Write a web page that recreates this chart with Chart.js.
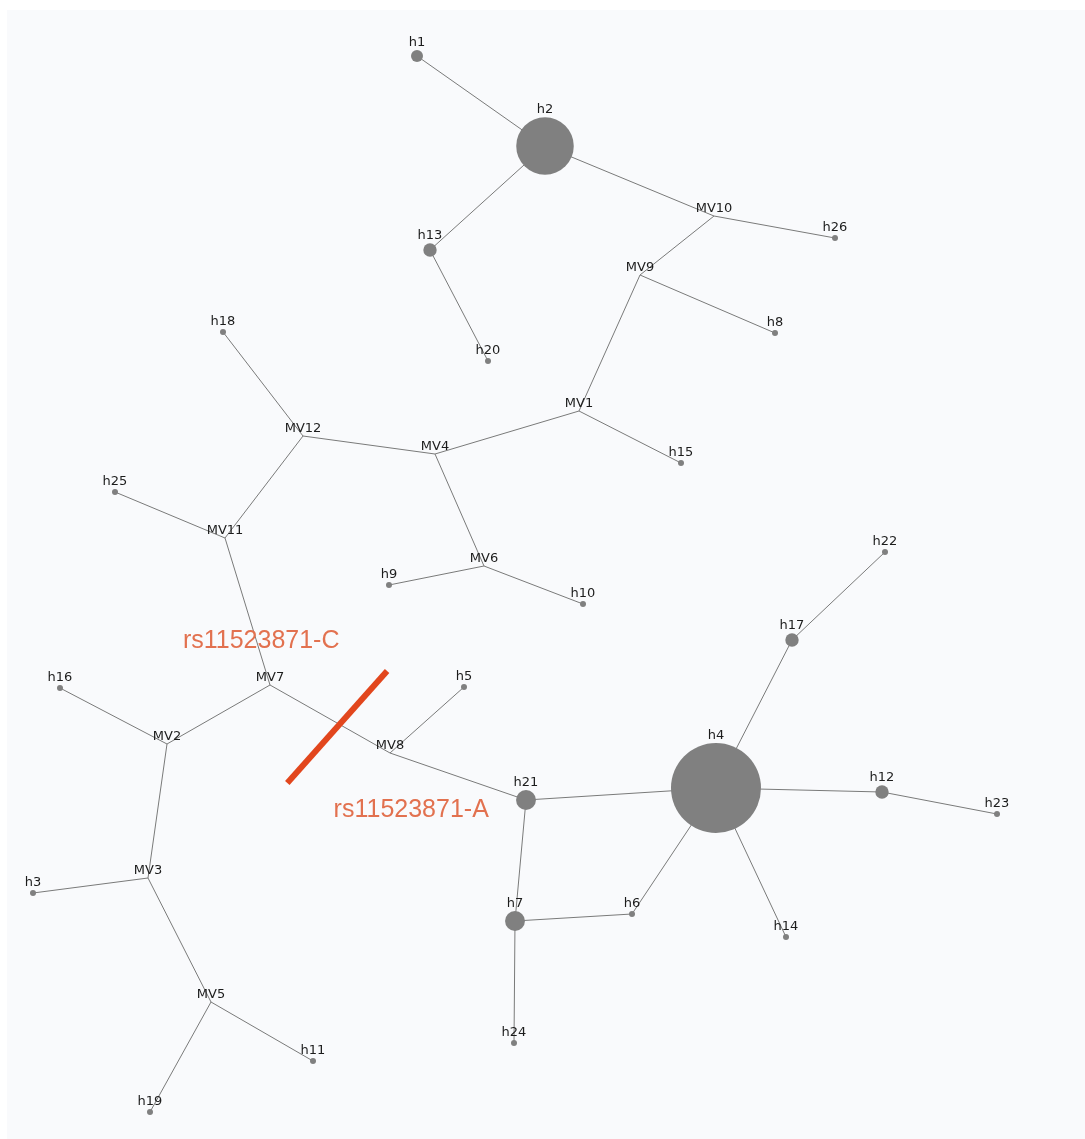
<!DOCTYPE html>
<html>
<head>
<meta charset="utf-8">
<script src="https://cdn.jsdelivr.net/npm/chart.js@4/dist/chart.umd.min.js"></script>
<style>
  html, body { margin: 0; padding: 0; background: #ffffff; }
  #wrap { width: 1085px; height: 1139px; }
</style>
</head>
<body>
<div id="wrap"><canvas id="c" width="1085" height="1139"></canvas></div>
<script>
// ---------------- DATA ----------------
// Haplotype / median-vector nodes (layout coordinates, y grows downward)
const nodeNames = ['h1','h2','h13','h20','MV10','h26','MV9','h8','MV1','h15','MV4','MV12','h18','MV11','h25','MV6','h9','h10','MV7','h16','MV2','MV3','h3','MV5','h11','h19','MV8','h5','h21','h7','h24','h6','h4','h17','h22','h12','h23','h14'];
const nodeX = [417, 545, 430, 488, 714, 835, 640, 775, 579, 681, 435, 303, 223, 225, 115, 484, 389, 583, 270, 60, 167, 148, 33, 211, 313, 150, 390, 464, 526, 515, 514, 632, 716, 792, 885, 882, 997, 786];
const nodeY = [56, 146, 250, 361, 216, 238, 275, 333, 411, 463, 454, 436, 332, 538, 492, 566, 585, 604, 685, 688, 744, 878, 893, 1002, 1061, 1112, 753, 687, 800, 921, 1043, 914, 788, 640, 552, 792, 814, 937];
// haplotype frequencies (0 = median vector, not sampled)
const nodeFreq = [4, 92, 5, 1, 0, 1, 0, 1, 0, 1, 0, 0, 1, 0, 1, 0, 1, 1, 0, 1, 0, 0, 1, 0, 1, 1, 0, 1, 11, 11, 1, 1, 225, 5, 1, 5, 1, 1];
// network links
const edgeFrom = ['h1','h2','h13','h2','MV10','MV10','MV9','MV9','MV1','MV1','MV4','MV12','MV12','MV11','MV4','MV6','MV6','MV11','MV7','MV2','MV2','MV3','MV3','MV5','MV5','MV7','MV8','MV8','h21','h21','h7','h6','h7','h4','h17','h4','h12','h4'];
const edgeTo   = ['h2','h13','h20','MV10','h26','MV9','h8','MV1','h15','MV4','MV12','h18','MV11','h25','MV6','h9','h10','MV7','MV2','h16','MV3','h3','MV5','h11','h19','MV8','h5','h21','h4','h7','h6','h4','h24','h17','h22','h12','h23','h14'];
// mutation marked on a link
const mutationEdge = ['MV7', 'MV8'];
const mutationAt = 0.56;            // fraction along the link
const mutationLabels = ['rs11523871-C', 'rs11523871-A'];

// ---------------- BUILD ----------------
const idx = {};
nodeNames.forEach((n, i) => idx[n] = i);
const pt = n => ({ x: nodeX[idx[n]], y: nodeY[idx[n]] });
const radiusOf = f => f > 0 ? 3 * Math.sqrt(f) : 0;

const datasets = [];
edgeFrom.forEach((a, i) => {
  datasets.push({
    type: 'scatter', showLine: true, order: 2,
    data: [pt(a), pt(edgeTo[i])],
    borderColor: '#7a7a7a', borderWidth: 1, pointRadius: 0, pointHoverRadius: 0
  });
});
datasets.push({
  type: 'scatter', order: 1,
  data: nodeNames.map((n, i) => ({ x: nodeX[i], y: nodeY[i] })),
  pointRadius: nodeFreq.map(radiusOf),
  pointHoverRadius: nodeFreq.map(radiusOf),
  pointBackgroundColor: '#808080', pointBorderWidth: 0, pointBorderColor: '#808080'
});
// mutation bar crossing the link
const pA = pt(mutationEdge[0]), pB = pt(mutationEdge[1]);
const cx = pA.x + (pB.x - pA.x) * mutationAt, cy = pA.y + (pB.y - pA.y) * mutationAt + 4;
const barAng = -48.3 * Math.PI / 180, barHalf = 75;
datasets.push({
  type: 'scatter', showLine: true, order: 0,
  data: [{ x: cx - barHalf * Math.cos(barAng), y: cy - barHalf * Math.sin(barAng) },
         { x: cx + barHalf * Math.cos(barAng), y: cy + barHalf * Math.sin(barAng) }],
  borderColor: '#e2461d', borderWidth: 6, borderCapStyle: 'butt', pointRadius: 0, pointHoverRadius: 0
});

const bgPlugin = {
  id: 'bg',
  beforeDraw(chart) {
    const ctx = chart.ctx;
    ctx.save();
    ctx.fillStyle = '#ffffff';
    ctx.fillRect(0, 0, chart.width, chart.height);
    ctx.fillStyle = '#f9fafc';
    ctx.fillRect(7, 10, chart.width - 7, chart.height - 10);
    ctx.restore();
  }
};
const labelPlugin = {
  id: 'labels',
  afterDatasetsDraw(chart) {
    const ctx = chart.ctx, xs = chart.scales.x, ys = chart.scales.y;
    ctx.save();
    ctx.font = '13px "DejaVu Sans"';
    ctx.fillStyle = '#1c1c1c';
    ctx.textAlign = 'center';
    ctx.textBaseline = 'alphabetic';
    nodeNames.forEach((n, i) => {
      const px = xs.getPixelForValue(nodeX[i]);
      const py = ys.getPixelForValue(nodeY[i]);
      const r = radiusOf(nodeFreq[i]);
      ctx.fillText(n, px, py - r - 4);
    });
    const mx = xs.getPixelForValue(cx), my = ys.getPixelForValue(cy);
    ctx.font = '25px "Liberation Sans"';
    ctx.fillStyle = '#e2714f';
    ctx.textBaseline = 'middle';
    ctx.fillText(mutationLabels[0], mx - 76, my - 86);
    ctx.fillText(mutationLabels[1], mx + 74, my + 83);
    ctx.restore();
  }
};

new Chart(document.getElementById('c'), {
  type: 'scatter',
  data: { datasets },
  options: {
    responsive: false,
    animation: false,
    events: [],
    layout: { padding: 0, autoPadding: false },
    plugins: { legend: { display: false }, tooltip: { enabled: false } },
    scales: {
      x: { type: 'linear', min: 0, max: 1085, display: false },
      y: { type: 'linear', min: 0, max: 1139, reverse: true, display: false }
    }
  },
  plugins: [bgPlugin, labelPlugin]
});
</script>
</body>
</html>
